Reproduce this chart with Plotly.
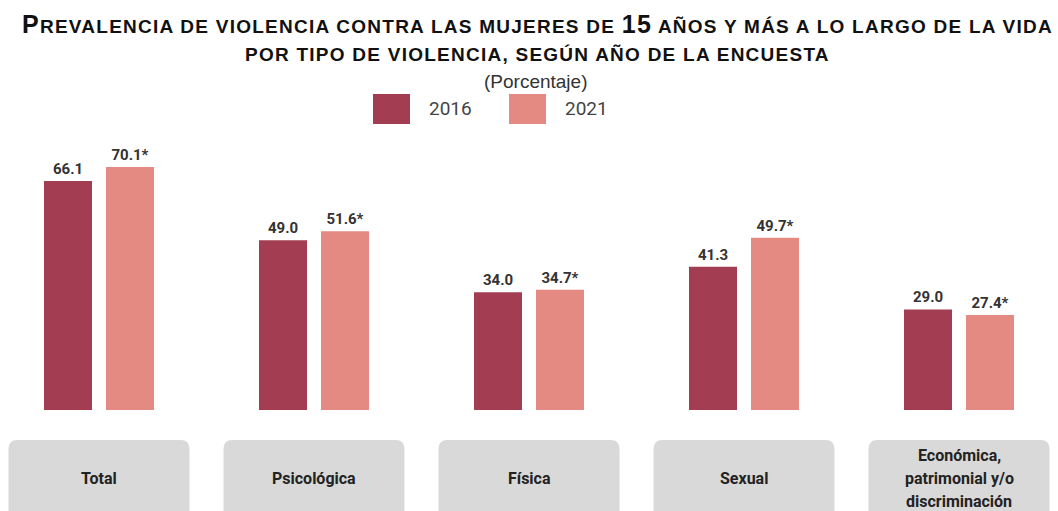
import plotly.graph_objects as go

# ---------------- data ----------------
categories = ["Total", "Psicológica", "Física", "Sexual",
              "Económica,<br>patrimonial y/o<br>discriminación"]
years = ["2016", "2021"]
values_2016 = [66.1, 49.0, 34.0, 41.3, 29.0]
values_2021 = [70.1, 51.6, 34.7, 49.7, 27.4]
sig_2021 = ["*", "*", "*", "*", "*"]

# ---------------- style ----------------
W, H = 1058, 511
PLOT_TOP, PLOT_BOT = 140, 410
C16 = "#A33D52"
C21 = "#E58A82"
BOX = "#D9D9D9"
ARIAL = "Liberation Sans, Arial, Helvetica, sans-serif"
ROBOTO = "Roboto, Arial, sans-serif"

UNIT = 215.0                      # px per category
R0 = -99.0 / UNIT
R1 = R0 + W / UNIT
BAR_W = 48 / UNIT
OFF16 = -55 / UNIT
OFF21 = 7 / UNIT


def py(p):
    """pixel y -> paper y"""
    return (PLOT_BOT - p) / (PLOT_BOT - PLOT_TOP)


def px(p):
    return p / W


xs = list(range(len(categories)))

fig = go.Figure()
fig.add_trace(go.Bar(
    x=xs, y=values_2016, name=years[0], width=BAR_W, offset=OFF16,
    marker=dict(color=C16, line=dict(width=0)),
    text=[f"{v:.1f}" for v in values_2016], textposition="outside",
    textfont=dict(family=ROBOTO, size=15, color="#333333", weight="bold"),
    cliponaxis=False, showlegend=False, hoverinfo="skip"))
fig.add_trace(go.Bar(
    x=xs, y=values_2021, name=years[1], width=BAR_W, offset=OFF21,
    marker=dict(color=C21, line=dict(width=0)),
    text=[f"{v:.1f}{s}" for v, s in zip(values_2021, sig_2021)], textposition="outside",
    textfont=dict(family=ROBOTO, size=15, color="#333333", weight="bold"),
    cliponaxis=False, showlegend=False, hoverinfo="skip"))

shapes = []
annotations = []

# category boxes + labels
rx = 9 / UNIT
ry = 9 / (PLOT_BOT - PLOT_TOP)
yt, yb = py(440), py(540)
for i, cat in enumerate(categories):
    x0, x1 = i - 90.5 / UNIT, i + 90.5 / UNIT
    path = (f"M {x0+rx},{yt} L {x1-rx},{yt} Q {x1},{yt} {x1},{yt-ry} "
            f"L {x1},{yb} L {x0},{yb} L {x0},{yt-ry} Q {x0},{yt} {x0+rx},{yt} Z")
    shapes.append(dict(type="path", xref="x", yref="paper", path=path,
                       fillcolor=BOX, line=dict(width=0), layer="below"))
    lines = cat.split("<br>")
    n = len(lines)
    for j, ln in enumerate(lines):
        annotations.append(dict(
            x=i, xref="x", y=py(478), yref="paper", text=ln, showarrow=False,
            xanchor="center", yanchor="middle", yshift=-(j - (n - 1) / 2) * 23,
            font=dict(family=ROBOTO, size=16, color="#222222", weight="bold")))

# title
LS = "letter-spacing:1.25px"
title1 = (f'<span style="font-size:25px;{LS}">P</span><span style="{LS}">REVALENCIA DE VIOLENCIA CONTRA LAS MUJERES DE </span>'
          f'<span style="font-size:25px;{LS}">15</span><span style="{LS}"> AÑOS Y MÁS A LO LARGO DE LA VIDA</span>')
title2 = f'<span style="{LS}">POR TIPO DE VIOLENCIA, SEGÚN AÑO DE LA ENCUESTA</span>'
annotations.append(dict(x=px(537), y=py(24), xref="paper", yref="paper", text=f"<b>{title1}</b>",
                        showarrow=False, xanchor="center", yanchor="middle",
                        font=dict(family=ARIAL, size=19, color="#111111")))
annotations.append(dict(x=px(537), y=py(54), xref="paper", yref="paper", text=f"<b>{title2}</b>",
                        showarrow=False, xanchor="center", yanchor="middle",
                        font=dict(family=ARIAL, size=19, color="#111111")))
annotations.append(dict(x=px(536), y=py(81), xref="paper", yref="paper", text="(Porcentaje)",
                        showarrow=False, xanchor="center", yanchor="middle",
                        font=dict(family=ARIAL, size=19, color="#333333")))

# custom legend
for (sx, tx, col, lab) in [(373, 427, C16, years[0]), (509, 563, C21, years[1])]:
    shapes.append(dict(type="rect", xref="paper", yref="paper",
                       x0=px(sx), x1=px(sx + 37), y0=py(124), y1=py(94),
                       fillcolor=col, line=dict(width=0)))
    annotations.append(dict(x=px(tx), y=py(108), xref="paper", yref="paper", text=lab,
                            showarrow=False, xanchor="left", yanchor="middle",
                            font=dict(family=ROBOTO, size=19, color="#444444")))

fig.update_layout(
    width=W, height=H,
    margin=dict(l=0, r=0, t=PLOT_TOP, b=H - PLOT_BOT, pad=0),
    paper_bgcolor="white", plot_bgcolor="white",
    barmode="overlay", showlegend=False,
    xaxis=dict(range=[R0, R1], showticklabels=False, showgrid=False, zeroline=False,
               showline=False, ticks="", fixedrange=True),
    yaxis=dict(range=[0, (PLOT_BOT - PLOT_TOP) / 3.466], showticklabels=False, showgrid=False,
               zeroline=False, showline=False, ticks="", fixedrange=True),
    shapes=shapes, annotations=annotations,
)

fig.write_html("out.html", config={"displayModeBar": False})
